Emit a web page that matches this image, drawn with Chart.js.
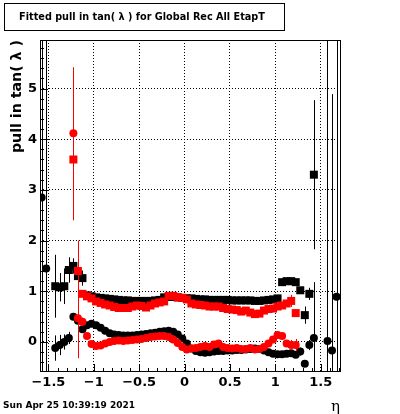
<!DOCTYPE html>
<html>
<head>
<meta charset="utf-8">
<script src="https://cdn.jsdelivr.net/npm/chart.js@4"></script>
<style>
body { margin: 0; background: #fff; }
canvas { display: block; }
</style>
</head>
<body>
<canvas id="c" width="400" height="414"></canvas>
<script>
const BLACK = '#000000'
const RED = '#ff0000'
const FONT = 'DejaVu Sans'

const TITLE = 'Fitted pull in tan( \u03bb ) for Global Rec All EtapT'
const Y_TITLE = 'pull in tan( \u03bb )'
const X_TITLE = '\u03b7'
const DATE = 'Sun Apr 25 10:39:19 2021'

const xTicks = [-1.5, -1, -0.5, 0, 0.5, 1, 1.5]
const yTicks = [0, 1, 2, 3, 4, 5]

// bin centres in eta
const eta = [-1.575, -1.525, -1.475, -1.425, -1.375, -1.325, -1.275, -1.225, -1.175, -1.125,
    -1.075, -1.025, -0.975, -0.925, -0.875, -0.825, -0.775, -0.725, -0.675, -0.625,
    -0.575, -0.525, -0.475, -0.425, -0.375, -0.325, -0.275, -0.225, -0.175, -0.125,
    -0.075, -0.025, 0.025, 0.075, 0.125, 0.175, 0.225, 0.275, 0.325, 0.375,
    0.425, 0.475, 0.525, 0.575, 0.625, 0.675, 0.725, 0.775, 0.825, 0.875,
    0.925, 0.975, 1.025, 1.075, 1.125, 1.175, 1.225, 1.275, 1.325, 1.375,
    1.425, 1.475, 1.525, 1.575, 1.625, 1.675]

// black: mean (circles) and sigma (squares)
const blackMean = [2.85, 1.45, null, -0.12, -0.06, 0.00, 0.08, 0.50, 0.42, 0.25,
    0.33, 0.36, 0.33, 0.28, 0.22, 0.17, 0.15, 0.14, 0.13, 0.13,
    0.13, 0.14, 0.15, 0.16, 0.17, 0.18, 0.20, 0.21, 0.22, 0.20,
    0.15, 0.07, -0.03, -0.13, -0.18, -0.20, -0.21, -0.20, -0.19, -0.18,
    -0.18, -0.17, -0.17, -0.16, -0.16, -0.15, -0.14, -0.13, -0.14, -0.17,
    -0.20, -0.23, -0.24, -0.24, -0.23, -0.22, -0.25, -0.19, -0.43, -0.06,
    0.08, null, null, 0.02, -0.17, 0.89]
const blackMeanErr = [8, 8, 0, 0.25, 0.20, 0.15, 0.12, 0.06, 0.05, 0.05,
    0.04, 0.03, 0.03, 0.03, 0.03, 0.03, 0.03, 0.03, 0.03, 0.03,
    0.03, 0.03, 0.03, 0.03, 0.03, 0.03, 0.03, 0.03, 0.03, 0.03,
    0.03, 0.03, 0.03, 0.03, 0.03, 0.03, 0.03, 0.03, 0.03, 0.03,
    0.03, 0.03, 0.03, 0.03, 0.03, 0.03, 0.03, 0.03, 0.03, 0.03,
    0.03, 0.03, 0.03, 0.03, 0.03, 0.03, 0.03, 0.08, 0.06, 0.10,
    1.10, 0, 0, 8, 5.06, 8]
const blackSigma = [null, null, null, 1.10, 1.08, 1.10, 1.42, 1.50, 1.30, 1.26,
    0.92, 0.90, 0.88, 0.87, 0.86, 0.85, 0.84, 0.83, 0.82, 0.82,
    0.81, 0.81, 0.81, 0.81, 0.81, 0.82, 0.83, 0.88, 0.89, 0.89,
    0.88, 0.87, 0.86, 0.86, 0.85, 0.84, 0.84, 0.83, 0.83, 0.83,
    0.83, 0.83, 0.82, 0.82, 0.82, 0.82, 0.82, 0.81, 0.81, 0.82,
    0.83, 0.84, 0.86, 1.18, 1.20, 1.20, 1.18, 1.02, 0.53, 0.95,
    3.30, null, null, null, null, null]
const blackSigmaErr = [0, 0, 0, 0.62, 0.28, 0.35, 0.25, 0.15, 0.15, 0.15,
    0.06, 0.05, 0.03, 0.03, 0.03, 0.03, 0.03, 0.03, 0.03, 0.03,
    0.03, 0.03, 0.03, 0.03, 0.03, 0.03, 0.03, 0.03, 0.03, 0.03,
    0.03, 0.03, 0.03, 0.03, 0.03, 0.03, 0.03, 0.03, 0.03, 0.03,
    0.03, 0.03, 0.03, 0.03, 0.03, 0.03, 0.03, 0.03, 0.03, 0.03,
    0.03, 0.03, 0.03, 0.05, 0.05, 0.05, 0.05, 0.06, 0.17, 0.12,
    1.47, 0, 0, 0, 0, 0]

// red: mean (circles) and sigma (squares)
const redMean = [null, null, null, null, null, null, null, 4.12, 0.47, 0.40,
    0.12, -0.04, -0.08, -0.07, -0.03, 0.00, 0.02, 0.03, 0.02, 0.03,
    0.04, 0.05, 0.06, 0.08, 0.10, 0.11, 0.12, 0.12, 0.10, 0.05,
    -0.02, -0.10, -0.15, -0.13, -0.12, -0.10, -0.08, -0.10, -0.05, -0.03,
    -0.10, -0.12, -0.13, -0.12, -0.14, -0.14, -0.12, -0.15, -0.14, -0.10,
    -0.03, 0.05, 0.14, 0.12, -0.03, -0.06, -0.06, null, null, null,
    null, null, null, null, null, null]
const redMeanErr = [0, 0, 0, 0, 0, 0, 0, 1.30, 0.79, 0.08,
    0.03, 0.03, 0.03, 0.03, 0.03, 0.03, 0.03, 0.03, 0.03, 0.03,
    0.03, 0.03, 0.03, 0.03, 0.03, 0.03, 0.03, 0.03, 0.03, 0.03,
    0.03, 0.03, 0.03, 0.03, 0.03, 0.03, 0.03, 0.03, 0.03, 0.03,
    0.03, 0.03, 0.03, 0.03, 0.03, 0.03, 0.03, 0.03, 0.03, 0.03,
    0.03, 0.03, 0.03, 0.03, 0.03, 0.10, 0.12, 0, 0, 0,
    0, 0, 0, 0, 0, 0]
const redSigma = [null, null, null, null, null, null, null, 3.60, 1.40, 0.95,
    0.90, 0.86, 0.80, 0.77, 0.74, 0.72, 0.69, 0.67, 0.67, 0.67,
    0.70, 0.72, 0.71, 0.68, 0.72, 0.76, 0.78, 0.80, 0.91, 0.91,
    0.88, 0.87, 0.84, 0.76, 0.74, 0.73, 0.72, 0.70, 0.70, 0.70,
    0.67, 0.65, 0.64, 0.63, 0.60, 0.62, 0.58, 0.55, 0.56, 0.62,
    0.65, 0.66, 0.70, 0.72, 0.76, 0.81, 0.57, null, null, null,
    null, null, null, null, null, null]
const redSigmaErr = [0, 0, 0, 0, 0, 0, 0, 1.20, 0.60, 0.06,
    0.03, 0.03, 0.03, 0.03, 0.03, 0.03, 0.03, 0.03, 0.03, 0.03,
    0.03, 0.03, 0.03, 0.03, 0.03, 0.03, 0.03, 0.03, 0.03, 0.03,
    0.03, 0.03, 0.03, 0.03, 0.03, 0.03, 0.03, 0.03, 0.03, 0.03,
    0.03, 0.03, 0.03, 0.03, 0.03, 0.03, 0.03, 0.03, 0.03, 0.03,
    0.03, 0.03, 0.03, 0.03, 0.03, 0.12, 0.05, 0, 0, 0,
    0, 0, 0, 0, 0, 0]

const X_MIN = -1.593
const X_MAX = 1.724
const Y_MIN = -0.592
const Y_MAX = 5.957

function makeSet(label, values, errors, color, style) {
    return {
        label: label,
        data: eta.map((x, i) => ({x: x, y: values[i]})),
        errors: errors,
        pointStyle: style,
        pointRadius: style === 'rect' ? 5.66 : 4,
        backgroundColor: color,
        borderColor: color,
        borderWidth: 0,
        showLine: false
    }
}

// vertical error bars, drawn just before the markers of their own dataset
const errorBars = {
    id: 'errorBars',
    beforeDatasetDraw(chart, args) {
        const ds = chart.data.datasets[args.index]
        const {ctx, chartArea: a, scales: {x, y}} = chart
        ctx.save()
        ctx.beginPath()
        ctx.rect(a.left, a.top, a.right - a.left, a.bottom - a.top)
        ctx.clip()
        ctx.strokeStyle = ds.borderColor
        ctx.lineWidth = 1
        ds.data.forEach((p, i) => {
            const e = ds.errors[i]
            if (p.y === null || !e) return
            const px = Math.round(x.getPixelForValue(p.x)) + 0.5
            ctx.beginPath()
            ctx.moveTo(px, y.getPixelForValue(p.y - e))
            ctx.lineTo(px, y.getPixelForValue(p.y + e))
            ctx.stroke()
        })
        ctx.restore()
    }
}

// ROOT style frame with inner ticks
const frame = {
    id: 'frame',
    beforeDatasetsDraw(chart) {
        const {ctx, chartArea: a, scales: {x, y}} = chart
        ctx.save()
        ctx.strokeStyle = BLACK
        ctx.lineWidth = 1
        ctx.beginPath()
        for (let k = -3; k <= 29; k++) {
            const py = Math.round(y.getPixelForValue(k * 0.2)) + 0.5
            if (py < a.top || py > a.bottom) continue
            ctx.moveTo(a.left, py)
            ctx.lineTo(a.left + (k % 5 === 0 ? 8 : 4), py)
        }
        for (let k = -15; k <= 17; k++) {
            const px = Math.round(x.getPixelForValue(k * 0.1)) + 0.5
            if (px < a.left || px > a.right) continue
            ctx.moveTo(px, a.bottom)
            ctx.lineTo(px, a.bottom - (k % 5 === 0 ? 8 : 4))
        }
        ctx.stroke()
        const l = Math.round(a.left), t = Math.round(a.top)
        ctx.strokeRect(l + 0.5, t + 0.5, Math.round(a.right) - l - 1, Math.round(a.bottom) - t - 1)
        ctx.restore()
    },
    afterDraw(chart) {
        const ctx = chart.ctx
        ctx.save()
        ctx.strokeStyle = BLACK
        ctx.fillStyle = BLACK
        ctx.lineWidth = 1
        ctx.strokeRect(4.5, 3.5, 280, 27)
        ctx.font = 'bold 9.7px "' + FONT + '"'
        ctx.textAlign = 'center'
        ctx.textBaseline = 'middle'
        ctx.fillText(TITLE, 142, 17)
        ctx.textAlign = 'left'
        ctx.font = 'bold 9px "' + FONT + '"'
        ctx.fillText(DATE, 3, 406)
        ctx.font = '15px "DejaVu Serif"'
        ctx.fillText(X_TITLE, 331, 407)
        ctx.restore()
    }
}

const tickFont = {family: FONT, weight: 'bold', size: 13}

new Chart(document.getElementById('c'), {
    type: 'scatter',
    data: {
        datasets: [
            makeSet('red mean', redMean, redMeanErr, RED, 'circle'),
            makeSet('red sigma', redSigma, redSigmaErr, RED, 'rect'),
            makeSet('black mean', blackMean, blackMeanErr, BLACK, 'circle'),
            makeSet('black sigma', blackSigma, blackSigmaErr, BLACK, 'rect')
        ]
    },
    options: {
        responsive: false,
        animation: false,
        layout: {padding: {top: 40, right: 59, left: 0, bottom: 0}},
        plugins: {
            legend: {display: false},
            tooltip: {enabled: false}
        },
        scales: {
            x: {
                type: 'linear',
                min: X_MIN,
                max: X_MAX,
                afterBuildTicks: s => { s.ticks = xTicks.map(v => ({value: v})) },
                afterFit: s => { s.height = 42 },
                grid: {color: BLACK, drawTicks: false},
                border: {display: false, dash: [1, 2]},
                ticks: {
                    color: BLACK,
                    font: tickFont,
                    padding: 3,
                    maxRotation: 0,
                    autoSkip: false,
                    callback: v => String(v).replace('-', '\u2212')
                }
            },
            y: {
                type: 'linear',
                min: Y_MIN,
                max: Y_MAX,
                afterBuildTicks: s => { s.ticks = yTicks.map(v => ({value: v})) },
                afterFit: s => { s.width = 40 },
                grid: {color: BLACK, drawTicks: false},
                border: {display: false, dash: [1, 2]},
                ticks: {color: BLACK, font: tickFont, padding: 3, autoSkip: false},
                title: {
                    display: true,
                    text: Y_TITLE,
                    align: 'end',
                    color: BLACK,
                    font: {family: FONT, weight: 'bold', size: 14.2},
                    padding: {top: 9, bottom: 0}
                }
            }
        }
    },
    plugins: [errorBars, frame]
})
</script>
</body>
</html>
